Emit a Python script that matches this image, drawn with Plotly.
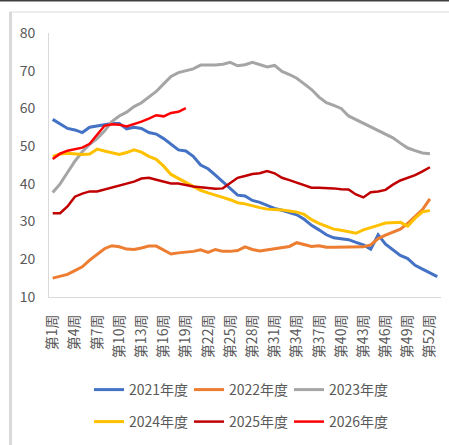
import plotly.graph_objects as go

weeks = [f"第{i}周" for i in range(1, 54)]
tick_weeks = weeks[0:52:3]

y2021 = [57.1, 55.8, 54.7, 54.3, 53.6, 55.0, 55.4, 55.8, 56.0, 56.0, 54.6, 55.0, 54.7, 53.6, 53.2,
         52.0, 50.6, 49.0, 48.7, 47.3, 45.0, 44.0, 42.3, 40.5, 38.8, 37.0, 36.8, 35.6, 35.1, 34.2,
         33.5, 33.0, 32.5, 31.8, 30.6, 29.0, 27.8, 26.5, 25.7, 25.4, 25.2, 24.5, 23.8, 22.7, 26.5,
         24.0, 22.4, 21.0, 20.2, 18.4, 17.4, 16.4, 15.4]
y2022 = [15.0, 15.6, 16.0, 17.0, 18.0, 19.8, 21.3, 22.8, 23.6, 23.3, 22.7, 22.6, 23.0, 23.5, 23.5,
         22.5, 21.4, 21.7, 21.9, 22.1, 22.5, 21.8, 22.6, 22.1, 22.1, 22.3, 23.3, 22.6, 22.2, 22.5,
         22.8, 23.1, 23.4, 24.4, 23.8, 23.4, 23.6, 23.2, 23.2, 23.2, 23.2, 23.1, 23.3, 23.8, 25.5,
         26.4, 27.2, 28.0, 29.5, 31.3, 33.2, 36.0]
y2023 = [37.7, 40.0, 43.0, 46.0, 48.5, 50.5, 52.0, 54.0, 56.5, 58.0, 59.0, 60.5, 61.5, 63.0, 64.5,
         66.5, 68.5, 69.5, 70.0, 70.5, 71.5, 71.5, 71.5, 71.7, 72.2, 71.3, 71.6, 72.2, 71.6, 71.0,
         71.4, 69.8, 69.0, 68.0, 66.5, 65.0, 63.0, 61.5, 60.8, 60.0, 58.0, 57.0, 56.0, 55.0, 54.0,
         53.2, 52.2, 50.8, 49.5, 48.8, 48.2, 48.0]
y2024 = [47.3, 47.9, 48.1, 48.0, 47.8, 47.9, 49.2, 48.7, 48.3, 47.8, 48.3, 49.0, 48.4, 47.3, 46.5,
         44.7, 42.5, 41.4, 40.5, 39.2, 38.3, 37.6, 36.9, 36.4, 35.8, 35.0, 34.7, 34.1, 33.7, 33.3,
         33.2, 33.1, 32.8, 32.5, 31.9, 30.5, 29.5, 28.7, 28.0, 27.7, 27.4, 26.9, 27.8, 28.5, 29.0,
         29.6, 29.8, 29.8, 28.8, 30.9, 32.6, 32.9]
y2025 = [32.2, 32.2, 34.0, 36.6, 37.4, 38.0, 38.0, 38.5, 39.2, 39.7, 40.2, 40.6, 41.4, 41.6, 41.1,
         40.5, 40.1, 40.1, 39.6, 39.3, 39.1, 38.8, 38.7, 38.8, 40.2, 41.6, 42.1, 42.6, 42.8, 43.4,
         42.8, 41.6, 41.0, 40.4, 39.7, 39.0, 39.0, 39.0, 38.8, 38.6, 38.5, 37.2, 36.4, 37.8, 38.0,
         38.4, 39.8, 40.9, 41.5, 42.3, 43.3, 44.4]
y2026 = [46.6, 48.0, 48.8, 49.2, 49.6, 50.6, 53.0, 55.4, 55.8, 55.7, 55.2, 55.8, 56.5, 57.3, 58.2,
         57.9, 58.8, 59.1, 60.1]

series = [
    ("2021年度", y2021, "#4472C4", 3, "legend"),
    ("2022年度", y2022, "#ED7D31", 3, "legend"),
    ("2023年度", y2023, "#A5A5A5", 3, "legend"),
    ("2024年度", y2024, "#FFC000", 3, "legend2"),
    ("2025年度", y2025, "#C00000", 2.5, "legend2"),
    ("2026年度", y2026, "#FF0000", 2.5, "legend2"),
]

fig = go.Figure()
for name, vals, color, width, lg in series:
    fig.add_trace(go.Scatter(
        x=weeks[:len(vals)], y=vals, name=name, mode="lines",
        line=dict(color=color, width=width), legend=lg,
    ))

L, R, T, B = 49, 8, 33, 148
W, H = 449 - L - R, 445 - T - B

def px(x):
    return (x - L) / W

def py(y):
    return (445 - B - y) / H

grey = "#595959"
font = "Noto Sans CJK SC"

legend_style = dict(
    orientation="h", xref="paper", yref="paper", xanchor="left", yanchor="middle",
    font=dict(size=14, color=grey, family=font), entrywidth=55, entrywidthmode="pixels",
    bgcolor="rgba(0,0,0,0)", itemwidth=30, tracegroupgap=0,
)

fig.update_layout(
    width=449, height=445,
    margin=dict(l=L, r=R, t=T, b=B, autoexpand=False),
    paper_bgcolor="white", plot_bgcolor="white",
    font=dict(family=font, color=grey),
    legend=dict(x=px(89), y=py(390), **legend_style),
    legend2=dict(x=px(89), y=py(422), **legend_style),
    shapes=[
        dict(type="line", xref="paper", yref="paper", x0=px(0), x1=px(449), y0=py(0.75), y1=py(0.75),
             line=dict(color="#404040", width=1.5)),
        dict(type="line", xref="paper", yref="paper", x0=px(10), x1=px(449), y0=py(12), y1=py(12),
             line=dict(color="#D9D9D9", width=1)),
        dict(type="line", xref="paper", yref="paper", x0=px(10.5), x1=px(10.5), y0=py(12), y1=py(445),
             line=dict(color="#D9D9D9", width=3)),
    ],
)

fig.update_xaxes(
    type="category", categoryorder="array", categoryarray=weeks,
    range=[-0.5, len(weeks) - 0.5], automargin=False,
    tickmode="array", tickvals=tick_weeks, ticktext=tick_weeks,
    tickangle=-90, tickfont=dict(size=14, color=grey, family=font),
    showgrid=False, showline=True, linecolor="#D9D9D9", linewidth=1,
    ticks="", ticklabelstandoff=11, zeroline=False,
)
fig.update_yaxes(
    range=[10, 80], dtick=10, tickfont=dict(size=14, color=grey, family=font),
    showgrid=False, showline=True, linecolor="#D9D9D9", linewidth=1, automargin=False,
    ticks="", ticklabelstandoff=10, zeroline=False,
)

fig.write_html("out.html", config={"displayModeBar": False},
               post_script="document.body.style.margin='0';")
